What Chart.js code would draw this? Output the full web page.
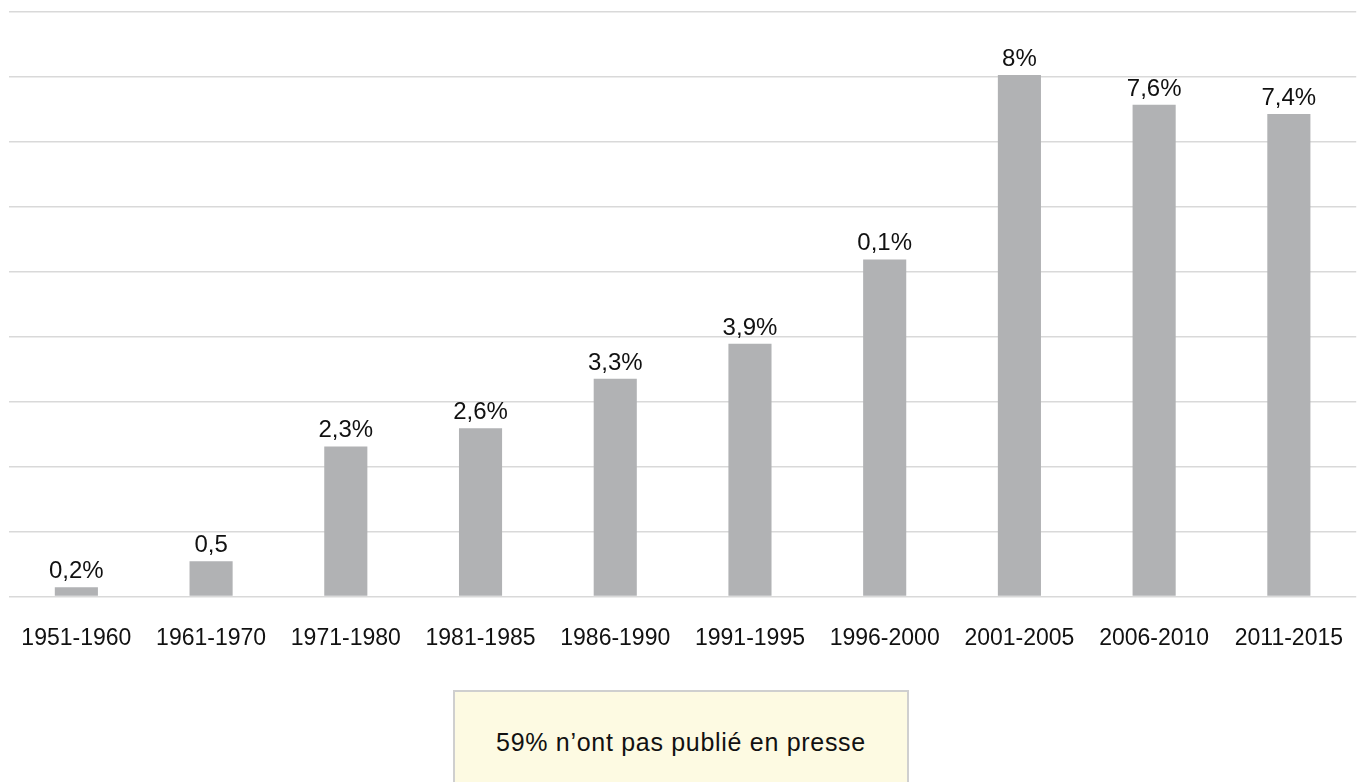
<!DOCTYPE html>
<html>
<head>
<meta charset="utf-8">
<script src="https://cdn.jsdelivr.net/npm/chart.js@4"></script>
<style>
  body { margin: 0; background: #fff; font-family: "Liberation Sans", Arial, sans-serif; }
  .zone { position: relative; width: 1363px; height: 782px; overflow: hidden; }
  .graf { position: absolute; left: 0; top: 0; width: 1363px; height: 682px; }
  .encadre {
    position: absolute; left: 453px; top: 690px; width: 456px; height: 120px;
    background: #fdfae2; border: 2px solid #cfcfcf; box-sizing: border-box;
    font-size: 25px; letter-spacing: 0.7px; color: #111; text-align: center; padding-top: 36px;
  }
</style>
</head>
<body>
<div class="zone">
  <div class="graf"><canvas id="grafico"></canvas></div>
  <div class="encadre">59% n’ont pas publié en presse</div>
</div>
<script>
// dados
const periodos = ["1951-1960", "1961-1970", "1971-1980", "1981-1985", "1986-1990",
  "1991-1995", "1996-2000", "2001-2005", "2006-2010", "2011-2015"];
const valores = [0.14, 0.54, 2.31, 2.59, 3.35, 3.89, 5.19, 8.03, 7.57, 7.43];
const rotulos = ["0,2%", "0,5", "2,3%", "2,6%", "3,3%", "3,9%", "0,1%", "8%", "7,6%", "7,4%"];

// plugin rótulo acima da barra
const rotuloBarras = {
  id: "rotuloBarras",
  afterDatasetsDraw(chart) {
    const ctx = chart.ctx;
    const meta = chart.getDatasetMeta(0);
    ctx.save();
    ctx.font = "24px 'Liberation Sans', Arial, sans-serif";
    ctx.fillStyle = "#111";
    ctx.textAlign = "center";
    ctx.textBaseline = "alphabetic";
    meta.data.forEach((bar, i) => {
      ctx.fillText(rotulos[i], bar.x, bar.y - 9);
    });
    ctx.restore();
  }
};

new Chart(document.getElementById("grafico"), {
  type: "bar",
  data: {
    labels: periodos,
    datasets: [{
      data: valores,
      backgroundColor: "#b1b2b4",
      borderWidth: 0,
      barPercentage: 0.32,
      categoryPercentage: 1
    }]
  },
  options: {
    responsive: true,
    maintainAspectRatio: false,
    animation: false,
    layout: { padding: { left: 9, right: 0, top: 12, bottom: 10 } },
    plugins: {
      legend: { display: false },
      tooltip: { enabled: false }
    },
    scales: {
      x: {
        grid: { display: false },
        border: { display: false },
        ticks: {
          color: "#111",
          padding: 20,
          maxRotation: 0,
          autoSkip: false,
          font: { family: "'Liberation Sans', Arial, sans-serif", size: 23 }
        }
      },
      y: {
        min: 0,
        max: 9,
        border: { display: false },
        grid: { color: "#d9d9d9", lineWidth: 1.5, drawTicks: false },
        ticks: { display: false, stepSize: 1 }
      }
    }
  },
  plugins: [rotuloBarras]
});
</script>
</body>
</html>
